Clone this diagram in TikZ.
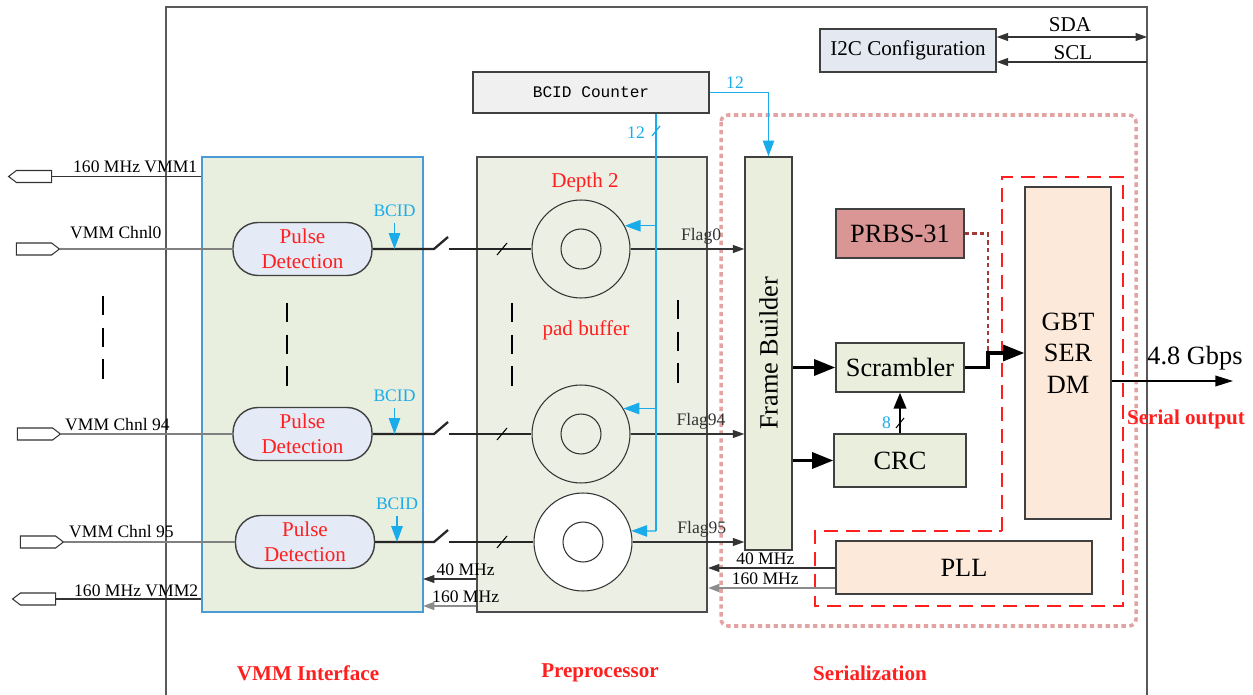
\documentclass[tikz,border=0pt]{standalone}
\usepackage{fontspec}
\setmainfont{Liberation Serif}
\newfontfamily\counterfont{Liberation Mono}
\usetikzlibrary{arrows.meta,shapes.symbols}

\definecolor{vmmgreen}{HTML}{E9EFDE}
\definecolor{pregreen}{HTML}{ECEFE3}
\definecolor{fbgreen}{HTML}{E9EFDC}
\definecolor{pdblue}{HTML}{E4EAF6}
\definecolor{i2cblue}{HTML}{E4E9F1}
\definecolor{peach}{HTML}{FCE9DA}
\definecolor{prbsred}{HTML}{D99694}
\definecolor{bcidcyan}{HTML}{1AABEB}
\definecolor{vmmedge}{HTML}{4A9AD6}
\definecolor{lblred}{HTML}{FF1F1F}
\definecolor{dotpink}{HTML}{E3A3A3}
\definecolor{prbsline}{HTML}{A33A3A}

\tikzset{
  box/.style={draw=black!75, line width=0.8pt, inner sep=0pt, align=center},
  bigtxt/.style={font=\fontsize{15}{18}\selectfont},
  smalltxt/.style={font=\fontsize{10}{12}\selectfont},
  midtxt/.style={font=\fontsize{12}{14}\selectfont},
  redtxt/.style={text=lblred, font=\fontsize{12}{14}\selectfont},
  sectiontxt/.style={text=lblred, font=\bfseries\fontsize{12}{14}\selectfont},
  port/.style={signal, draw=black!80, line width=0.6pt, fill=white, minimum width=0.86cm, minimum height=0.24cm, inner sep=0pt, signal pointer angle=75},
  pulse/.style={box, fill=pdblue, rounded corners=0.5cm, minimum width=2.78cm, minimum height=1.06cm, text=lblred, font=\fontsize{12}{14}\selectfont},
  buffer/.style={circle, draw=black!80, line width=0.6pt, minimum size=1.96cm, inner sep=0pt},
  core/.style={circle, draw=black!80, line width=0.6pt, minimum size=0.8cm, inner sep=0pt},
  sig/.style={line width=1.3pt, black!85},
  wire/.style={line width=0.7pt, black!80},
  inwire/.style={line width=0.9pt, black!50},
  flagarr/.style={wire, -{Triangle[length=6.5pt,width=4.5pt]}},
  fatarr/.style={line width=2pt, -{Triangle[length=12pt,width=9pt]}},
  busblue/.style={bcidcyan, line width=0.7pt},
  bluearr/.style={busblue, -{Triangle[length=9pt,width=6.5pt]}},
  tick/.style={line width=0.6pt}
}

\begin{document}
\begin{tikzpicture}[x=0.02cm, y=-0.02cm]
\useasboundingbox (0,0) rectangle (1253,695);

% chip frame
\draw[black!65, line width=1pt] (166,695) -- (166,7) -- (1147,7) -- (1147,695);

% serialization area
\draw[dotpink, line width=2pt, dash pattern=on 2.5pt off 2pt, rounded corners=4pt] (721,115) rectangle (1136,626);
\draw[lblred, line width=1.4pt, dash pattern=on 8pt off 4.5pt] (1002,531) -- (1002,177) -- (1123,177) -- (1123,606) -- (815,606) -- (815,531) -- cycle;

% main blocks
\node[box, fill=vmmgreen, draw=vmmedge, minimum width=4.42cm, minimum height=9.1cm] (vmm) at (312.5,384.5) {};
\node[box, fill=pregreen, draw=black!70, minimum width=4.6cm, minimum height=9.1cm] (pre) at (592,384.5) {};
\node[box, fill=fbgreen, minimum width=0.94cm, minimum height=7.86cm] (fb) at (768.5,353.5) {};
\node[bigtxt, rotate=90] (fbtext) at (fb.center) {Frame Builder};
\node[box, fill=i2cblue, minimum width=3.52cm, minimum height=0.86cm, midtxt] (i2c) at (908,50.5) {I2C Configuration};
\node[box, fill=black!6, minimum width=4.72cm, minimum height=0.82cm, font=\counterfont\fontsize{9.2}{11}\selectfont] (bcid) at (591,92.5) {BCID Counter};
\node[box, fill=prbsred, minimum width=2.56cm, minimum height=0.98cm, bigtxt] (prbs) at (900,233.5) {PRBS-31};
\node[box, fill=fbgreen, minimum width=2.56cm, minimum height=0.98cm, bigtxt] (scr) at (900,367.5) {Scrambler};
\node[box, fill=fbgreen, minimum width=2.64cm, minimum height=1.06cm, bigtxt] (crc) at (900,460.5) {CRC};
\node[box, fill=peach, minimum width=1.72cm, minimum height=6.64cm, bigtxt] (gbt) at (1068,353) {GBT\\SER\\DM};
\node[box, fill=peach, minimum width=5.12cm, minimum height=1.06cm, bigtxt] (pll) at (964,567.5) {PLL};

% section labels
\node[sectiontxt] (lblvmm) at (308,673) {VMM Interface};
\node[sectiontxt] (lblpre) at (600,673) {Preprocessor};
\node[sectiontxt] (lblser) at (870,673) {Serialization};
\node[sectiontxt] (lblout) at (1186,419) {Serial output};
\node[redtxt] (depth) at (585,182) {Depth 2};
\node[redtxt] (pad) at (586,330) {pad buffer};

% channels
\foreach \r/\y/\px/\cx/\cf in {0/249/302.5/581/pregreen, 94/434/302.5/581/pregreen, 95/542/305/583/white} {
  \node[pulse] (pd\r) at (\px,\y) {Pulse\\Detection};
  \node[buffer, fill=\cf] (c\r) at (\cx,\y) {};
  \node[core, fill=\cf] (ci\r) at (c\r) {};
  \coordinate (sw\r) at (434,\y);
  \draw[sig] (pd\r.east) -- (sw\r) -- ++(14,-12);
  \draw[sig] (449,\y) -- (c\r.west);
  \draw[tick] (502,\y) ++(-5,6) -- ++(10,-12);
  \node[smalltxt, text=bcidcyan] (bc\r) at (\px+92,\y-38) {BCID};
  \draw[bluearr] (bc\r.south) -- (bc\r.south |- pd\r.east);
  \draw[flagarr] (c\r.east) -- (c\r.east -| fb.west) node[pos=0.62, above=-1pt, smalltxt] {Flag\r};
}

% VMM ports
\node[port, signal to=west] (p1) at (34,176.5) {};
\node[port, signal to=east] (p0) at (34,249) {};
\node[port, signal to=east] (p94) at (35,434) {};
\node[port, signal to=east] (p95) at (38,542) {};
\node[port, signal to=west] (p2) at (38,599) {};
\draw[wire] (p1.east) -- (p1.east -| vmm.west);
\draw[wire, line width=1pt] (p2.east) -- (p2.east -| vmm.west);
\draw[inwire] (p0.east) -- (pd0.west);
\draw[inwire] (p94.east) -- (pd94.west);
\draw[inwire] (p95.east) -- (pd95.west);
\node[smalltxt, anchor=base west] (l1) at (67,173) {160 MHz VMM1};
\node[smalltxt, anchor=base west] (l0) at (64,239) {VMM Chnl0};
\node[smalltxt, anchor=base west] (l94) at (59,430) {VMM Chnl 94};
\node[smalltxt, anchor=base west] (l95) at (63,537) {VMM Chnl 95};
\node[smalltxt, anchor=base west] (l2) at (68,596) {160 MHz VMM2};

% ellipsis marks
\foreach \x/\ya/\yb in {103/296/383, 287/303/390, 512/303/392, 678/300/390}
  \draw[line width=1.6pt, dash pattern=on 11pt off 7pt] (\x,\ya) -- (\x,\yb);

% BCID bus
\coordinate (bus) at (656,531);
\draw[busblue] (bcid.south -| bus) -- (bus);
\draw[bluearr] (bus |- c0.28) -- (c0.28);
\draw[bluearr] (bus |- c94.31) -- (c94.31);
\draw[bluearr] (bus) -- (c95.13);
\draw[busblue] (656,131) ++(-4,5) -- ++(8,-10);
\node[smalltxt, text=bcidcyan, anchor=east] (w12a) at (651,133) {12};
\draw[bluearr] (bcid.east) -| (fb.north);
\node[smalltxt, text=bcidcyan] (w12b) at (735,83) {12};

% serializer paths
\draw[fatarr] (fb.east |- scr.west) -- (scr.west);
\draw[fatarr] (fb.east |- crc.west) -- (crc.west);
\draw[line width=1.5pt, -{Triangle[length=9pt,width=7pt]}] (crc.north) -- (scr.south);
\draw[tick] (900,423) ++(-4,5) -- ++(8,-10);
\node[smalltxt, text=bcidcyan, anchor=east] (w8) at (897,423) {8};
\coordinate (jn) at (988,353);
\draw[prbsline, line width=1.6pt, dash pattern=on 2.5pt off 1.8pt] (prbs.east) -| (jn);
\draw[fatarr] (scr.east) -- (scr.east -| jn) -- (jn) -- (jn -| gbt.west);
\coordinate (out) at (1233,381);
\draw[line width=1pt, -{Triangle[length=10pt,width=6pt]}] (out -| gbt.east) -- (out);
\node[bigtxt] (rate) at (1195,358) {4.8 Gbps};

% clocks
\coordinate (pk40) at (708,568);
\coordinate (pk160) at (708,588);
\draw[flagarr] (pk40 -| pll.west) -- (pk40) node[pos=0.55, above=-2pt, smalltxt, black] {40 MHz};
\draw[flagarr, black!45, line width=1.2pt] (pk160 -| pll.west) -- (pk160) node[pos=0.55, above=-2pt, smalltxt, black] {160 MHz};
\coordinate (vk40) at (423,579);
\coordinate (vk160) at (423,606);
\draw[flagarr] (vk40 -| pre.west) -- (vk40) node[pos=0.2, above=-2pt, smalltxt, black] {40 MHz};
\draw[flagarr, black!45, line width=1.2pt] (vk160 -| pre.west) -- (vk160) node[pos=0.2, above=-2pt, smalltxt, black] {160 MHz};

% I2C
\coordinate (sda) at (1147,37);
\coordinate (scl) at (1147,62);
\draw[wire, {Triangle[length=6.5pt,width=4.5pt]}-{Triangle[length=6.5pt,width=4.5pt]}] (sda -| i2c.east) -- (sda);
\draw[wire, {Triangle[length=6.5pt,width=4.5pt]}-] (scl -| i2c.east) -- (scl);
\node[midtxt] (sdal) at (1070,25) {SDA};
\node[midtxt] (scll) at (1073,53) {SCL};
\end{tikzpicture}
\end{document}
